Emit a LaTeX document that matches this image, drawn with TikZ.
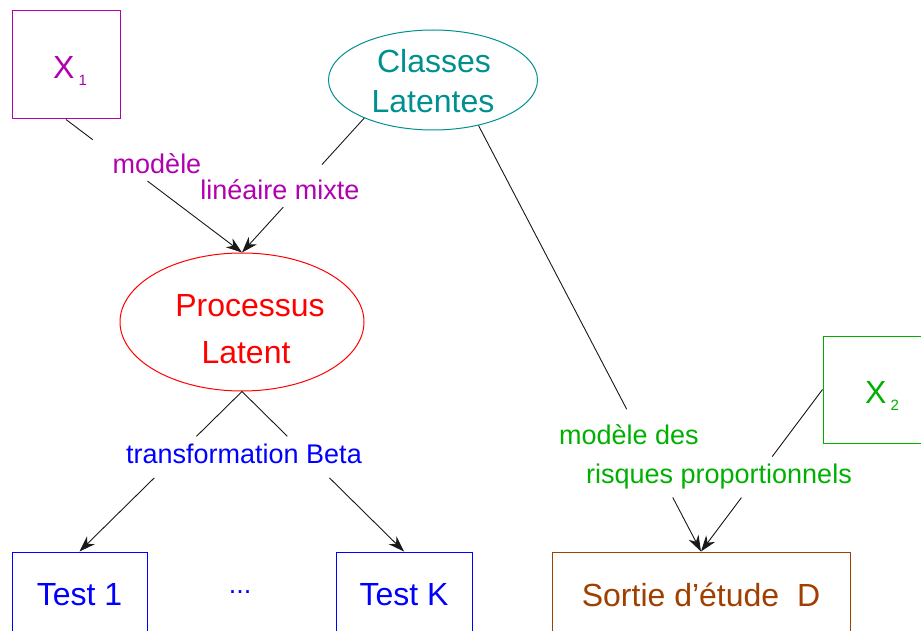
\documentclass[tikz,border=0pt]{standalone}
\usepackage{fontspec}
\setmainfont{Liberation Sans}
\usetikzlibrary{shapes.geometric,arrows.meta,calc}
\definecolor{cmag}{HTML}{B000B0}
\definecolor{cteal}{HTML}{009090}
\definecolor{cgreen}{HTML}{00B000}
\definecolor{cbrown}{HTML}{A04000}
\begin{document}
\begin{tikzpicture}[x=1pt,y=-1pt,
  conn/.style={line width=0.9pt, black!90},
  arr/.style={conn, -{Stealth[length=16pt,width=11pt,inset=5pt]}},
  bigfont/.style={font=\fontsize{32}{38}\selectfont},
  lab/.style={font=\fontsize{27}{32}\selectfont, inner sep=0pt, anchor=base},
  boxnode/.style={rectangle, line width=1pt, inner sep=0pt},
  ellnode/.style={ellipse, line width=1pt, inner sep=0pt},
  txt/.style={bigfont, inner sep=0pt, anchor=base}]
\path[use as bounding box, clip] (0,0) rectangle (921,631);
\fill[white] (0,0) rectangle (921,631);

% input boxes
\node[boxnode, draw=cmag, minimum width=108pt, minimum height=108pt] (X1) at (66,65) {};
\node[txt, text=cmag, anchor=base west] (X1t) at (53,79) {X\hspace{4pt}\raisebox{-7pt}{\fontsize{15}{18}\selectfont 1}};
\node[boxnode, draw=cgreen, minimum width=108pt, minimum height=107pt] (X2) at (877,389.5) {};
\node[txt, text=cgreen, anchor=base west] (X2t) at (865,403) {X\hspace{4pt}\raisebox{-7pt}{\fontsize{15}{18}\selectfont 2}};

% ellipses
\node[ellnode, draw=cteal, minimum width=209pt, minimum height=100pt] (C) at (433,80) {};
\node[txt, text=cteal] (Ct1) at (434,73) {Classes};
\node[txt, text=cteal] (Ct2) at (433,113) {Latentes};
\node[ellnode, draw=red, minimum width=244pt, minimum height=138pt] (P) at (242,322) {};
\node[txt, text=red] (Pt1) at (250,316) {Processus};
\node[txt, text=red] (Pt2) at (246,363) {Latent};

% output boxes
\node[boxnode, bigfont, draw=blue, text=blue, minimum width=135pt, minimum height=86pt] (T1) at (79.5,595) {Test 1};
\node[boxnode, bigfont, draw=blue, text=blue, minimum width=136pt, minimum height=86pt] (TK) at (404,595) {Test K};
\node[boxnode, bigfont, draw=cbrown, text=cbrown, minimum width=298pt, minimum height=86pt] (S) at (701,595) {Sortie d’étude\ \ D};
\node[lab, text=blue] (dots) at (240,593) {...};

% labels
\node[lab, text=cmag] (l1) at (157,174) {modèle};
\node[lab, text=cmag] (l2) at (280,200) {linéaire mixte};
\node[lab, text=blue] (l3) at (244,463) {transformation Beta};
\node[lab, text=cgreen] (l4) at (629,444) {modèle des};
\node[lab, text=cgreen] (l5) at (719,483) {risques proportionnels};

% connectors
\draw[conn] (X1.south) -- ($(X1.south)!0.152!(P.north)$);
\draw[arr] ($(X1.south)!0.463!(P.north)$) -- (P.north);
\draw[conn] (C.209) -- ($(C.209)!0.346!(P.north)$);
\draw[arr] ($(C.209)!0.662!(P.north)$) -- (P.north);
\draw[conn] (C.-45) -- ($(C.-45)!0.666!(S.north)$);
\draw[arr] ($(C.-45)!0.873!(S.north)$) -- (S.north);
\draw[conn] (X2.west) -- ($(X2.west)!0.414!(S.north)$);
\draw[arr] ($(X2.west)!0.667!(S.north)$) -- (S.north);
\draw[conn] (P.south) -- ($(P.south)!0.28!(T1.north)$);
\draw[arr] ($(P.south)!0.54!(T1.north)$) -- (T1.north);
\draw[conn] (P.south) -- ($(P.south)!0.28!(TK.north)$);
\draw[arr] ($(P.south)!0.54!(TK.north)$) -- (TK.north);
\end{tikzpicture}
\end{document}
